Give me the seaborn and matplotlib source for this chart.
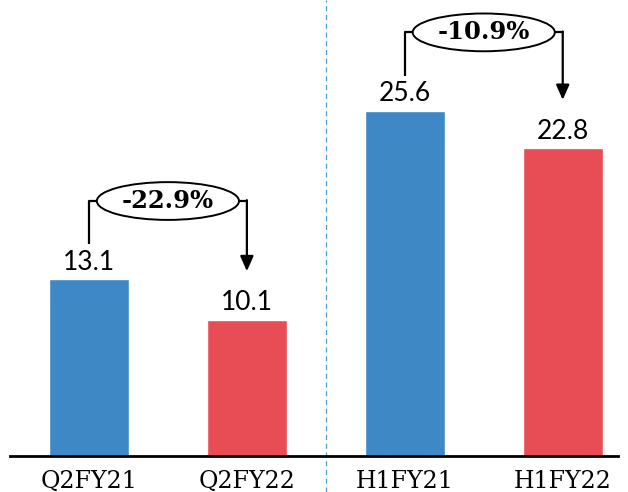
import matplotlib
matplotlib.use("Agg")
import matplotlib.pyplot as plt
from matplotlib.patches import Ellipse
import pandas as pd
import seaborn as sns

# dados
periods = ["Q2FY21", "Q2FY22", "H1FY21", "H1FY22"]
values = [13.1, 10.1, 25.6, 22.8]
changes = ["-22.9%", "-10.9%"]
colors = ["#3D88C5", "#E84C55", "#3D88C5", "#E84C55"]

df = pd.DataFrame({"period": periods, "value": values})

sns.set_style("white")
plt.rcParams["font.family"] = ["DejaVu Serif"]
plt.rcParams["text.color"] = "black"
plt.rcParams["xtick.color"] = "black"

fig = plt.figure(figsize=(6.28, 4.92), dpi=100)
ax = fig.add_axes([10 / 628, 36 / 492, 608 / 628, 456 / 492])

sns.barplot(data=df, x="period", y="value", hue="period", palette=colors,
            width=0.506, legend=False, ax=ax, saturation=1)

ax.set_xlim(-0.5, 3.35)
ax.set_ylim(0, 33.8)
ax.set_xlabel("")
ax.set_ylabel("")
ax.set_yticks([])
ax.tick_params(axis="x", length=0, labelsize=17, pad=10, labelcolor="black")
for s in ["top", "right", "left"]:
    ax.spines[s].set_visible(False)
ax.spines["bottom"].set_linewidth(2)
ax.spines["bottom"].set_color("black")

# rótulos
for i, v in enumerate(values):
    ax.text(i, v + 0.72, f"{v:.1f}", ha="center", va="baseline", fontsize=19,
            family="Lato", color="black")

# divisória
ax.axvline(1.5, ymin=-0.08, ymax=1, color="#4A9CD0", lw=0.9,
           ls=(0, (4, 3)), clip_on=False)

# setas com variação
for k, ch in enumerate(changes):
    i0, i1 = 2 * k, 2 * k + 1
    ey = max(values[i0], values[i1]) + 5.8
    ew, eh = 0.9, 2.8
    cx = (i0 + i1) / 2
    ax.plot([i0, i0, cx - ew / 2], [values[i0] + 2.6, ey, ey], color="black", lw=1.6,
            solid_capstyle="butt")
    ax.plot([cx + ew / 2, i1], [ey, ey], color="black", lw=1.6)
    ax.annotate("", xy=(i1, values[i1] + 3.6), xytext=(i1, ey + 0.06),
                arrowprops=dict(arrowstyle="-|>,head_length=0.9,head_width=0.4",
                                color="black", lw=1.6, shrinkA=0, shrinkB=0))
    ax.add_patch(Ellipse((cx, ey), ew, eh, facecolor="white", edgecolor="black", lw=1.4))
    ax.text(cx, ey, ch, ha="center", va="center", fontsize=17.5, fontweight="bold")

fig.savefig("out.png", dpi=100)
